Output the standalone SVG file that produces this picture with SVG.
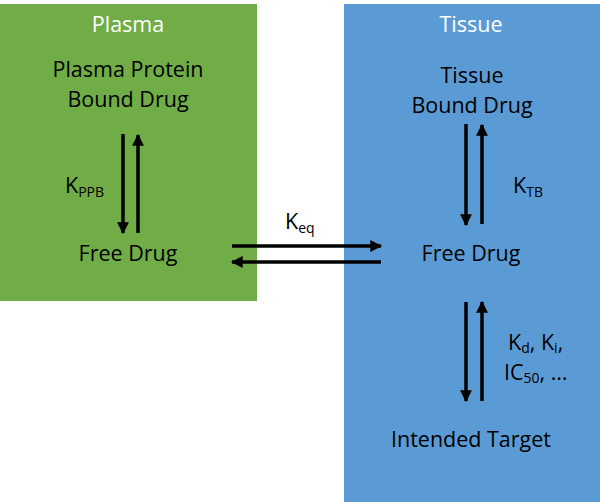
<svg xmlns="http://www.w3.org/2000/svg" width="600" height="502" viewBox="0 0 600 502">
<defs>
<marker id="ah" viewBox="0 0 10 10" refX="9" refY="5" markerWidth="3.4" markerHeight="3.4" orient="auto" markerUnits="strokeWidth">
<path d="M0,0 L10,5 L0,10 z" fill="#000"/>
</marker>
</defs>
<style>
text{font-family:"Open Sans","Liberation Sans",sans-serif;font-size:21.5px;fill:#000}
.h{fill:#fff}
.m{text-anchor:middle}
.sub{font-size:14px}
.c line{stroke:#000;stroke-width:3.5;marker-end:url(#ah)}
</style>
<rect x="0" y="4" width="257" height="297" fill="#70AD47"/>
<rect x="344" y="4" width="256" height="498" fill="#5B9BD5"/>
<text class="h m" x="128" y="32">Plasma</text>
<text class="h m" x="471" y="32">Tissue</text>
<g id="ppb">
<text class="m" x="128" y="77">Plasma Protein</text>
<text class="m" x="128" y="107">Bound Drug</text>
</g>
<g id="pfree"><text class="m" x="128" y="261">Free Drug</text></g>
<g id="tb">
<text class="m" x="472" y="83">Tissue</text>
<text class="m" x="472" y="113">Bound Drug</text>
</g>
<g id="tfree"><text class="m" x="471" y="261">Free Drug</text></g>
<g id="target"><text class="m" x="471" y="447">Intended Target</text></g>
<g class="c">
<line x1="123" y1="134" x2="123" y2="233"/>
<line x1="138" y1="233" x2="138" y2="135"/>
<line x1="232" y1="246" x2="381" y2="246"/>
<line x1="381" y1="262" x2="232" y2="262"/>
<line x1="466" y1="124" x2="466" y2="225"/>
<line x1="482" y1="224" x2="482" y2="125"/>
<line x1="466" y1="302" x2="466" y2="401"/>
<line x1="482" y1="401" x2="482" y2="302"/>
</g>
<text x="65" y="193">K<tspan class="sub" dy="4">PPB</tspan></text>
<text x="285" y="229">K<tspan class="sub" dy="4">eq</tspan></text>
<text x="513" y="193">K<tspan class="sub" dy="4">TB</tspan></text>
<text x="508" y="350">K<tspan class="sub" dy="3">d</tspan><tspan dy="-3">, K</tspan><tspan class="sub" dy="3">i</tspan><tspan dy="-3">,</tspan></text>
<text x="504" y="380">IC<tspan class="sub" dy="3">50</tspan><tspan dy="-3">, …</tspan></text>
</svg>
